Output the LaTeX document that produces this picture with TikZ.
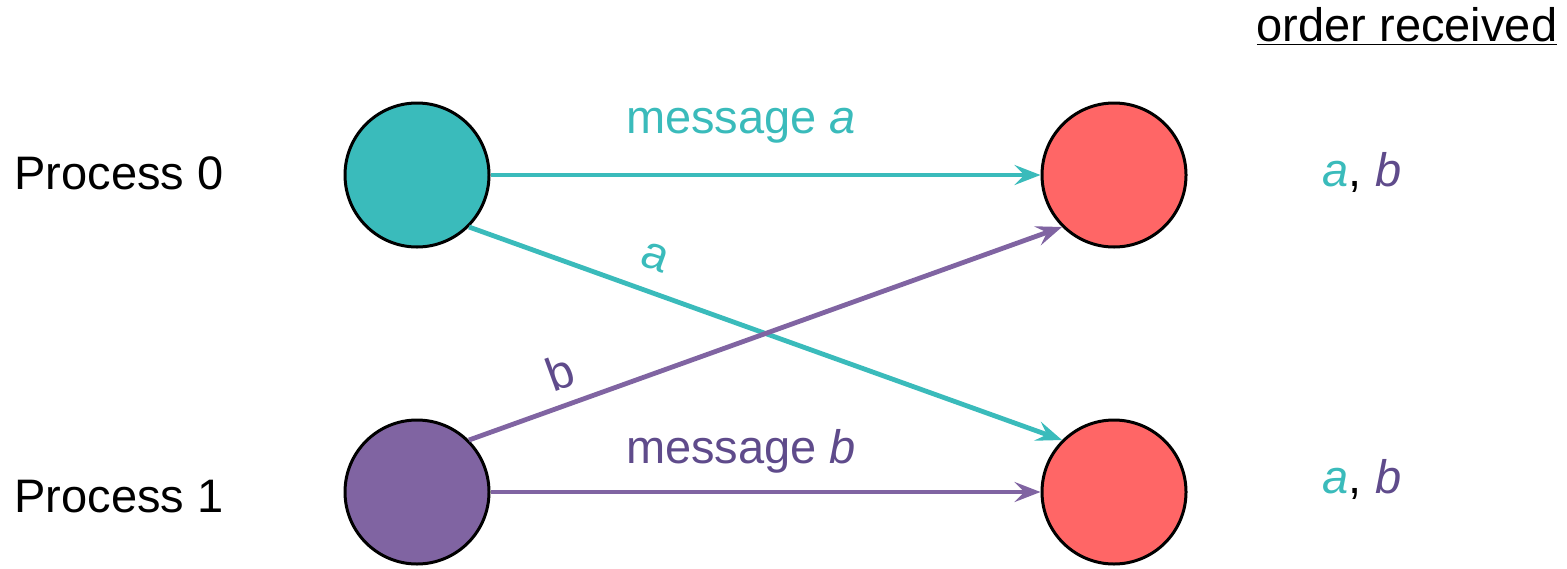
\documentclass[tikz,border=0pt]{standalone}
\usepackage{fontspec}
\setmainfont{Liberation Sans}
\usetikzlibrary{arrows.meta}
\definecolor{teal0}{HTML}{3ABBBB}
\definecolor{purp}{HTML}{8064A2}
\definecolor{purpt}{HTML}{5F4B8B}
\definecolor{redc}{HTML}{FF6666}
\tikzset{
  proc/.style={circle,draw=black,line width=1.5pt,minimum size=72pt,inner sep=0pt},
  msg/.style={line width=2.4pt,-{Stealth[length=13pt,width=10pt,inset=5pt]}},
  lbl/.style={font=\fontsize{23.5pt}{28pt}\selectfont,inner sep=0pt},
}
\begin{document}
\begin{tikzpicture}[x=0.5pt,y=-0.5pt]
\useasboundingbox (0,0) rectangle (1567,568);
\node[proc,fill=teal0] (s0) at (417,175) {};
\node[proc,fill=purp] (s1) at (417,492) {};
\node[proc,fill=redc] (r0) at (1114,175) {};
\node[proc,fill=redc] (r1) at (1114,492) {};
\node[lbl,anchor=west] (p0) at (14,173) {Process 0};
\node[lbl,anchor=west] (p1) at (14,497) {Process 1};
\draw[msg,teal0] (s0) -- (r0);
\draw[msg,purp] (s1) -- (r1);
\draw[msg,teal0] (s0.-45) -- (r1.135);
\draw[msg,purp] (s1.45) -- (r0.-135);
\node[lbl,text=teal0,anchor=base] (ma) at (741,133) {message \textit{a}};
\node[lbl,text=purpt,anchor=base] (mb) at (741,463) {message \textit{b}};
\node[lbl,text=teal0,rotate=-20] (la) at (655,257) {a};
\node[lbl,text=purpt,rotate=20] (lb) at (560,372) {b};
\node[lbl,anchor=base] (ord) at (1407,41) {\underline{order received}};
\node[lbl] (o0) at (1362,172) {\textcolor{teal0}{\textit{a}}, \textcolor{purpt}{\textit{b}}};
\node[lbl] (o1) at (1362,479) {\textcolor{teal0}{\textit{a}}, \textcolor{purpt}{\textit{b}}};
\end{tikzpicture}
\end{document}
